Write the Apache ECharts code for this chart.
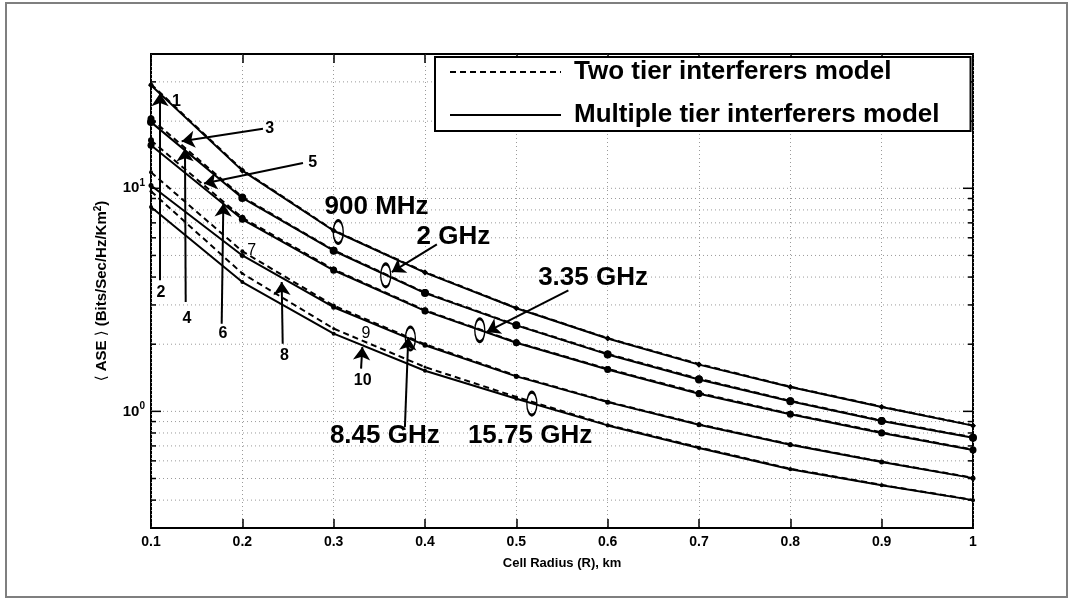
<!DOCTYPE html>
<html>
<head>
<meta charset="utf-8">
<script src="https://cdn.jsdelivr.net/npm/echarts@6/dist/echarts.min.js"></script>
<style>
html,body{margin:0;padding:0;background:#fff;}
#chart{position:absolute;left:0;top:0;width:1073px;height:598px;}
#frame{position:absolute;left:5px;top:2px;width:1059px;height:592px;border:2px solid #7f7f7f;pointer-events:none;}
</style>
</head>
<body>
<div id="chart"></div>
<div id="frame"></div>
<script>
// ---------------- data ----------------
const radius = [0.1, 0.2, 0.3, 0.4, 0.5, 0.6, 0.7, 0.8, 0.9, 1.0];

const ase900Two    = [29.3, 12.1, 6.48, 4.21, 2.91, 2.13, 1.63, 1.29, 1.05, 0.865];
const ase900Multi  = [29.0, 12.0, 6.45, 4.19, 2.90, 2.12, 1.62, 1.285, 1.045, 0.863];
const ase2Two      = [20.5, 9.15, 5.28, 3.41, 2.44, 1.81, 1.40, 1.115, 0.91, 0.765];
const ase2Multi    = [19.8, 9.05, 5.25, 3.39, 2.43, 1.80, 1.39, 1.11, 0.905, 0.762];
const ase335Two    = [16.4, 7.38, 4.33, 2.84, 2.04, 1.55, 1.21, 0.975, 0.805, 0.674];
const ase335Multi  = [15.6, 7.26, 4.29, 2.82, 2.03, 1.54, 1.20, 0.97, 0.80, 0.671];
const ase845Two    = [11.8, 5.22, 2.98, 2.00, 1.445, 1.105, 0.875, 0.712, 0.595, 0.504];
const ase845Multi  = [10.3, 5.00, 2.93, 1.98, 1.435, 1.10, 0.871, 0.709, 0.593, 0.502];
const ase1575Two   = [9.7, 4.15, 2.35, 1.58, 1.16, 0.87, 0.69, 0.553, 0.468, 0.401];
const ase1575Multi = [8.25, 3.80, 2.23, 1.52, 1.14, 0.865, 0.685, 0.55, 0.466, 0.400];

const legendNames = ['Two tier interferers model', 'Multiple tier interferers model'];
const yGridValues = [0.4, 0.5, 0.6, 0.7, 0.8, 0.9, 1, 2, 3, 4, 5, 6, 7, 8, 9, 10, 20, 30];
const yMajorValues = [1, 10];

// annotation anchors in data coordinates [R, ASE]
const freqLabels = [
  {text: '900 MHz',   at: [0.347, 8.25]},
  {text: '2 GHz',     at: [0.431, 6.09]},
  {text: '3.35 GHz',  at: [0.584, 3.96]},
  {text: '8.45 GHz',  at: [0.356, 0.776]},
  {text: '15.75 GHz', at: [0.515, 0.776]}
];
const ellipses = [[0.305, 6.37], [0.357, 4.07], [0.460, 2.31], [0.384, 2.12], [0.517, 1.083]];
const arrows = [
  [[0.413, 5.61], [0.3636, 4.21]],
  [[0.557, 3.49], [0.4676, 2.27]],
  [[0.378, 0.850], [0.3817, 2.15]],
  [[0.2226, 18.5], [0.1336, 16.25]],
  [[0.2664, 12.99], [0.158, 10.5]],
  [[0.1099, 3.87], [0.1099, 26.7]],
  [[0.138, 3.09], [0.1372, 15.1]],
  [[0.1774, 2.47], [0.1792, 8.54]],
  [[0.2442, 2.01], [0.2431, 3.80]],
  [[0.330, 1.554], [0.3314, 1.942]]
];
const curveNumbers = [
  {text: '1',  at: [0.128, 24.4],  bold: true},
  {text: '2',  at: [0.111, 3.42],  bold: true},
  {text: '3',  at: [0.230, 18.5],  bold: true},
  {text: '4',  at: [0.1394, 2.61], bold: true},
  {text: '5',  at: [0.277, 13.1],  bold: true},
  {text: '6',  at: [0.1788, 2.24], bold: true},
  {text: '7',  at: [0.2103, 5.27], bold: false},
  {text: '8',  at: [0.246, 1.78],  bold: true},
  {text: '9',  at: [0.3354, 2.24], bold: false},
  {text: '10', at: [0.3318, 1.377], bold: true}
];

const X_MIN = 0.1, X_MAX = 1, X_STEP = 0.1;
const Y_MIN = 0.3, Y_MAX = 40;

// ---------------- styles ----------------
const FONT = 'Liberation Sans, Arial, sans-serif';
const curves = [
  {two: ase900Two,  multi: ase900Multi,  symbol: 'diamond', size: 6},
  {two: ase2Two,    multi: ase2Multi,    symbol: 'circle',  size: 8},
  {two: ase335Two,  multi: ase335Multi,  symbol: 'circle',  size: 7},
  {two: ase845Two,  multi: ase845Multi,  symbol: 'circle',  size: 5},
  {two: ase1575Two, multi: ase1575Multi, symbol: 'circle',  size: 4}
];

const series = [];
curves.forEach(c => {
  series.push({
    name: legendNames[1], type: 'line', z: 3,
    data: radius.map((r, k) => [r, c.multi[k]]),
    symbol: c.symbol, symbolSize: c.size, showSymbol: true,
    lineStyle: {color: '#000', width: 2},
    itemStyle: {color: '#000'}
  });
});
curves.forEach(c => {
  series.push({
    name: legendNames[0], type: 'line', z: 4,
    data: radius.map((r, k) => [r, c.two[k]]),
    symbol: c.symbol, symbolSize: c.size - 1, showSymbol: true,
    lineStyle: {color: '#000', width: 2, type: [6, 4]},
    itemStyle: {color: '#000'}
  });
});

// y gridlines + inner ticks (left & right) drawn through axis scales
series.push({
  type: 'custom', name: 'ygrid', z: 1, silent: true,
  data: yGridValues.map(v => [X_MIN, v]),
  renderItem: function (params, api) {
    const v = api.value(1);
    const p0 = api.coord([X_MIN, v]);
    const p1 = api.coord([X_MAX, v]);
    const major = yMajorValues.some(m => Math.abs(m - v) < 1e-9);
    const len = major ? 10 : 5;
    return {type: 'group', children: [
      {type: 'line', shape: {x1: p0[0], y1: p0[1], x2: p1[0], y2: p1[1]},
       style: {stroke: '#9a9a9a', lineWidth: 1, lineDash: [1, 3]}},
      {type: 'line', shape: {x1: p0[0], y1: p0[1], x2: p0[0] + len, y2: p0[1]},
       style: {stroke: '#000', lineWidth: 1.5}},
      {type: 'line', shape: {x1: p1[0] - len, y1: p1[1], x2: p1[0], y2: p1[1]},
       style: {stroke: '#000', lineWidth: 1.5}}
    ]};
  }
});

// annotations
const markPointData = [];
freqLabels.forEach(f => markPointData.push({
  coord: f.at, symbol: 'circle', symbolSize: 1, itemStyle: {color: 'rgba(0,0,0,0)'},
  label: {show: true, position: 'inside', formatter: f.text, color: '#000',
          fontSize: 26, fontWeight: 'bold', fontFamily: FONT}
}));
curveNumbers.forEach(f => markPointData.push({
  coord: f.at, symbol: 'circle', symbolSize: 1, itemStyle: {color: 'rgba(0,0,0,0)'},
  label: {show: true, position: 'inside', formatter: f.text, color: '#000',
          fontSize: 16, fontWeight: f.bold ? 'bold' : 'normal', fontFamily: FONT}
}));
ellipses.forEach(e => markPointData.push({
  coord: e, symbol: 'circle', symbolSize: [10, 23],
  itemStyle: {color: 'rgba(0,0,0,0)', borderColor: '#000', borderWidth: 2},
  label: {show: false}
}));

series.push({
  type: 'line', name: 'annotations', data: [], z: 6, silent: true,
  markLine: {
    silent: true, animation: false, symbol: ['none', 'arrow'], symbolSize: 13,
    label: {show: false},
    lineStyle: {color: '#000', width: 2, type: 'solid'},
    emphasis: {disabled: true},
    data: arrows.map(a => [{coord: a[0]}, {coord: a[1]}])
  },
  markPoint: {
    silent: true, animation: false,
    data: markPointData
  }
});

const chart = echarts.init(document.getElementById('chart'), null, {renderer: 'canvas'});
chart.setOption({
  animation: false,
  backgroundColor: '#fff',
  textStyle: {fontFamily: FONT},
  grid: {left: 151, right: 100, top: 54, bottom: 70, show: true,
         borderColor: '#000', borderWidth: 2, backgroundColor: '#fff'},
  legend: {
    orient: 'vertical', left: 435, top: 57,
    data: legendNames, selectedMode: false,
    backgroundColor: '#fff', borderColor: '#000', borderWidth: 2,
    padding: [2, 31, 3, 14],
    itemWidth: 111, itemHeight: 14, itemGap: 17,
    itemStyle: {opacity: 0},
    textStyle: {fontFamily: FONT, fontWeight: 'bold', fontSize: 26, color: '#000', padding: [0, 0, 0, 8]}
  },
  xAxis: [{
    type: 'value', min: X_MIN, max: X_MAX, interval: X_STEP,
    name: 'Cell Radius (R), km', nameLocation: 'middle', nameGap: 29,
    nameTextStyle: {fontSize: 13, fontWeight: 'bold', color: '#000', fontFamily: FONT},
    axisLine: {show: false},
    axisTick: {show: true, inside: true, length: 9, lineStyle: {color: '#000', width: 1.5}},
    axisLabel: {fontSize: 14, fontWeight: 'bold', color: '#000', margin: 7, fontFamily: FONT},
    splitLine: {show: true, lineStyle: {color: '#9a9a9a', width: 1, type: [1, 3]}}
  }, {
    type: 'value', position: 'top', min: X_MIN, max: X_MAX, interval: X_STEP,
    axisLine: {show: false},
    axisTick: {show: true, inside: true, length: 9, lineStyle: {color: '#000', width: 1.5}},
    axisLabel: {show: false},
    splitLine: {show: false}
  }],
  yAxis: {
    type: 'log', logBase: 10, min: Y_MIN, max: Y_MAX,
    name: '{br|⟨} ASE {br|⟩} (Bits/Sec/Hz/Km{sup|2})',
    nameLocation: 'middle', nameGap: 40, nameRotate: 90,
    nameTextStyle: {fontSize: 15, fontWeight: 'bold', color: '#000', fontFamily: FONT,
      rich: {br: {fontSize: 15, fontWeight: 'normal', color: '#000', fontFamily: 'DejaVu Sans'},
             sup: {fontSize: 10, fontWeight: 'bold', color: '#000', padding: [0, 0, 8, 0]}}},
    axisLine: {show: false},
    axisTick: {show: false},
    splitLine: {show: false},
    axisLabel: {
      margin: 6, color: '#000',
      formatter: function (v) {
        if (Math.abs(v - 1) < 1e-6) return '{b|10}{s|0}';
        if (Math.abs(v - 10) < 1e-6) return '{b|10}{s|1}';
        return '';
      },
      rich: {b: {fontSize: 15, fontWeight: 'bold', color: '#000', fontFamily: FONT},
             s: {fontSize: 10, fontWeight: 'bold', color: '#000', fontFamily: FONT, padding: [0, 0, 10, 0]}}
    }
  },
  series: series
});
</script>
</body>
</html>
